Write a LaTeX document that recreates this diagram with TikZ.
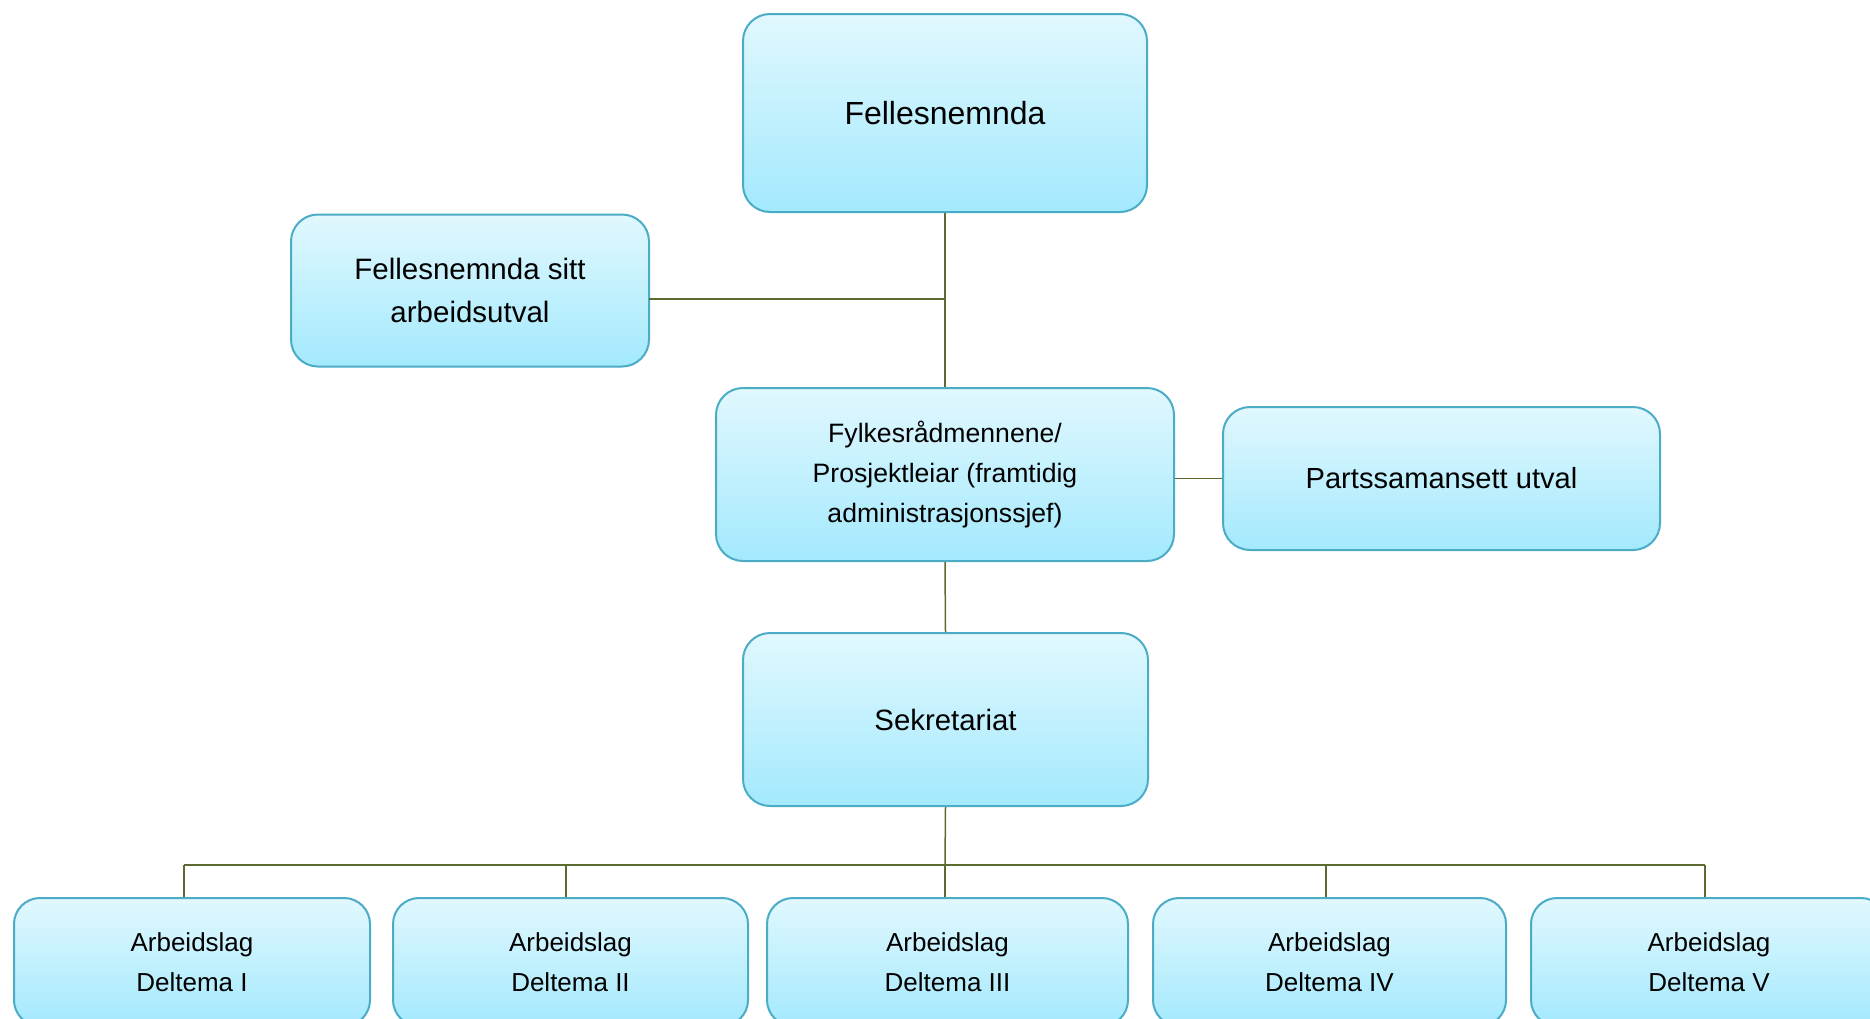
\documentclass[tikz,border=0pt]{standalone}
\usepackage{fontspec}
\setmainfont{Liberation Sans}
\definecolor{boxtop}{HTML}{E1F8FE}
\definecolor{boxbot}{HTML}{A3E9FD}
\definecolor{boxline}{HTML}{4BACC6}
\definecolor{connline}{HTML}{5B6B30}
\tikzset{
  orgbox/.style={draw=boxline, line width=2pt, rounded corners=27pt,
    top color=boxtop, bottom color=boxbot, inner sep=0pt, align=center,
    anchor=center, text=black},
  conn/.style={draw=connline, line width=1.5pt}
}
\begin{document}
\begin{tikzpicture}[x=1pt,y=-1pt]
\path[use as bounding box] (0,0) rectangle (1870,1018);
\clip (0,0) rectangle (1870,1018);
\fill[white] (0,0) rectangle (1870,1018);

% nodes
\node[orgbox, minimum width=404pt, minimum height=198pt,
  font=\fontsize{32}{38}\selectfont] (fn) at (945,113) {Fellesnemnda};
\node[orgbox, minimum width=358pt, minimum height=152pt,
  font=\fontsize{29.5}{43}\selectfont] (au) at (470,290.5) {Fellesnemnda sitt\\arbeidsutval};
\node[orgbox, minimum width=458pt, minimum height=173pt,
  font=\fontsize{26.6}{40}\selectfont] (fy) at (945,474.5) {Fylkesrådmennene/\\Prosjektleiar (framtidig\\administrasjonssjef)};
\node[orgbox, minimum width=437pt, minimum height=143pt,
  font=\fontsize{29.1}{34}\selectfont] (pa) at (1441.5,478.5) {Partssamansett utval};
\node[orgbox, minimum width=405pt, minimum height=173pt,
  font=\fontsize{29.4}{36}\selectfont] (sk) at (945.5,719.5) {Sekretariat};

\tikzset{botbox/.style={orgbox, rounded corners=26pt, minimum height=128pt,
  font=\fontsize{26}{40}\selectfont}}
\node[botbox, minimum width=356pt] (b1) at (192,962) {Arbeidslag\\Deltema I};
\node[botbox, minimum width=355pt] (b2) at (570.5,962) {Arbeidslag\\Deltema II};
\node[botbox, minimum width=361pt] (b3) at (947.5,962) {Arbeidslag\\Deltema III};
\node[botbox, minimum width=353pt] (b4) at (1329.5,962) {Arbeidslag\\Deltema IV};
\node[botbox, minimum width=356pt] (b5) at (1709,962) {Arbeidslag\\Deltema V};

% connectors
\coordinate (auj) at (649,299);
\path[conn] (fn.south) -- (fy.north);
\path[conn] (auj) -- (auj -| fn.south);
\path[conn] (pa.west) -- (pa.west -| fy.east);
\path[conn] (fy.south) -- (sk.north);

\coordinate (j1) at (184,865);
\coordinate (j2) at (566,865);
\coordinate (j3) at (945,865);
\coordinate (j4) at (1326,865);
\coordinate (j5) at (1705,865);
\path[conn] (sk.south) -- (j3);
\path[conn] (j1) -- (j5);
\path[conn] (j1) -- (j1 |- b1.north);
\path[conn] (j2) -- (j2 |- b2.north);
\path[conn] (j3) -- (j3 |- b3.north);
\path[conn] (j4) -- (j4 |- b4.north);
\path[conn] (j5) -- (j5 |- b5.north);
\end{tikzpicture}
\end{document}
